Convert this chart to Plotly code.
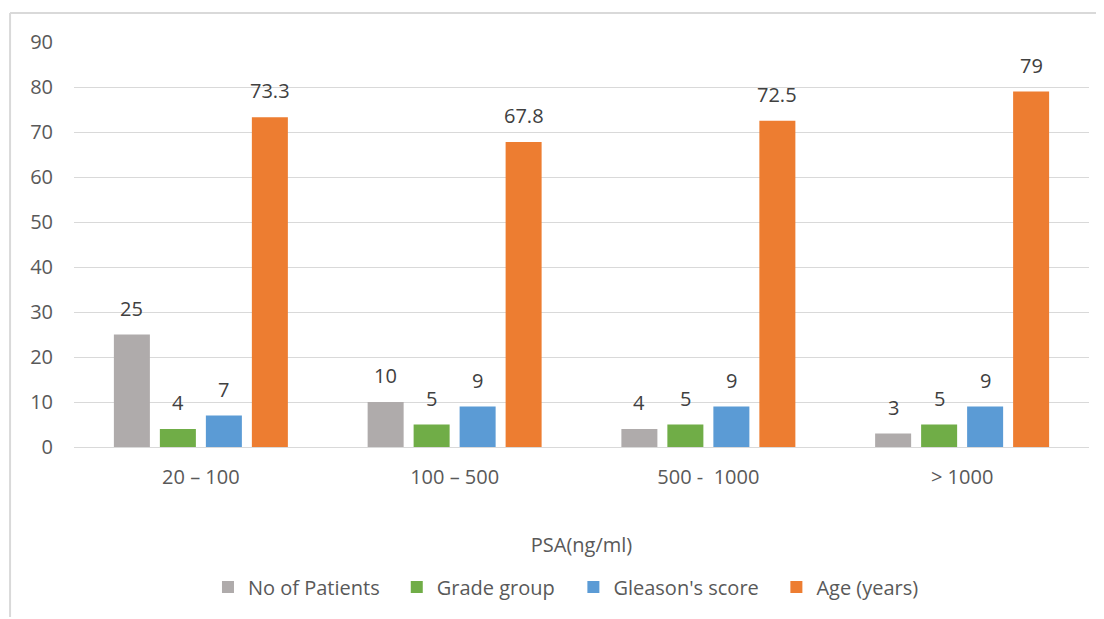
import plotly.graph_objects as go

categories = ["20 – 100", "100 – 500", "500 -  1000", "> 1000"]
series_names = ["No of Patients", "Grade group", "Gleason's score", "Age (years)"]
patients = [25, 10, 4, 3]
grade_group = [4, 5, 5, 5]
gleason = [7, 9, 9, 9]
age = [73.3, 67.8, 72.5, 79]
colors = ["#AFABAB", "#70AD47", "#5B9BD5", "#ED7D31"]

font = "Open Sans"
series = [patients, grade_group, gleason, age]

# one legend per series so the entries can be spaced like the original
legend_ids = ["legend", "legend2", "legend3", "legend4"]
legend_x = [0.132, 0.318, 0.492, 0.692]

fig = go.Figure()
for name, vals, c, lg in zip(series_names, series, colors, legend_ids):
    fig.add_trace(go.Bar(x=categories, y=vals, name=name, marker_color=c,
                         marker_line_width=0, legend=lg))

# data labels above the bars (4 bars per group, 46px slot each)
slot = 46
annotations = []
for i, vals in enumerate(series):
    for cat, v in zip(categories, vals):
        annotations.append(dict(x=cat, y=v, text=f"{v:g}", showarrow=False,
                                xshift=(i - 1.5) * slot, yanchor="bottom", yshift=11,
                                font=dict(family=font, size=20, color="#404040")))

legends = {}
for lg, lx in zip(legend_ids, legend_x):
    legends[lg] = dict(orientation="h", x=lx, xanchor="left", y=-0.3457, yanchor="middle",
                       font=dict(size=20, color="#595959"), itemwidth=30,
                       bgcolor="rgba(0,0,0,0)")

# page body has an 8px margin, so the figure is a bit smaller than the window
fig.update_layout(
    width=1096, height=611,
    margin=dict(l=66, r=15, t=34, b=172),
    paper_bgcolor="white", plot_bgcolor="white",
    barmode="group", bargap=0.275, bargroupgap=0.217,
    font=dict(family=font, size=20, color="#595959"),
    annotations=annotations,
    showlegend=True,
    shapes=[
        dict(type="line", xref="paper", yref="paper", x0=-0.063, x1=1.1, y0=1.0716, y1=1.0716,
             line=dict(color="#D9D9D9", width=2)),
        dict(type="line", xref="paper", yref="paper", x0=-0.063, x1=-0.063, y0=1.0716, y1=-0.42,
             line=dict(color="#D9D9D9", width=2)),
    ],
    **legends,
)
fig.update_xaxes(showgrid=False, showline=True, linecolor="#D9D9D9", linewidth=1,
                 ticks="", ticklabelstandoff=12,
                 title=dict(text="PSA(ng/ml)", standoff=48, font=dict(size=20, color="#595959")))
fig.update_yaxes(range=[0, 90], dtick=10, showgrid=True, gridcolor="#D9D9D9", gridwidth=1,
                 zeroline=False, showline=False, ticks="", ticklabelstandoff=20)

fig.write_html("out.html")
